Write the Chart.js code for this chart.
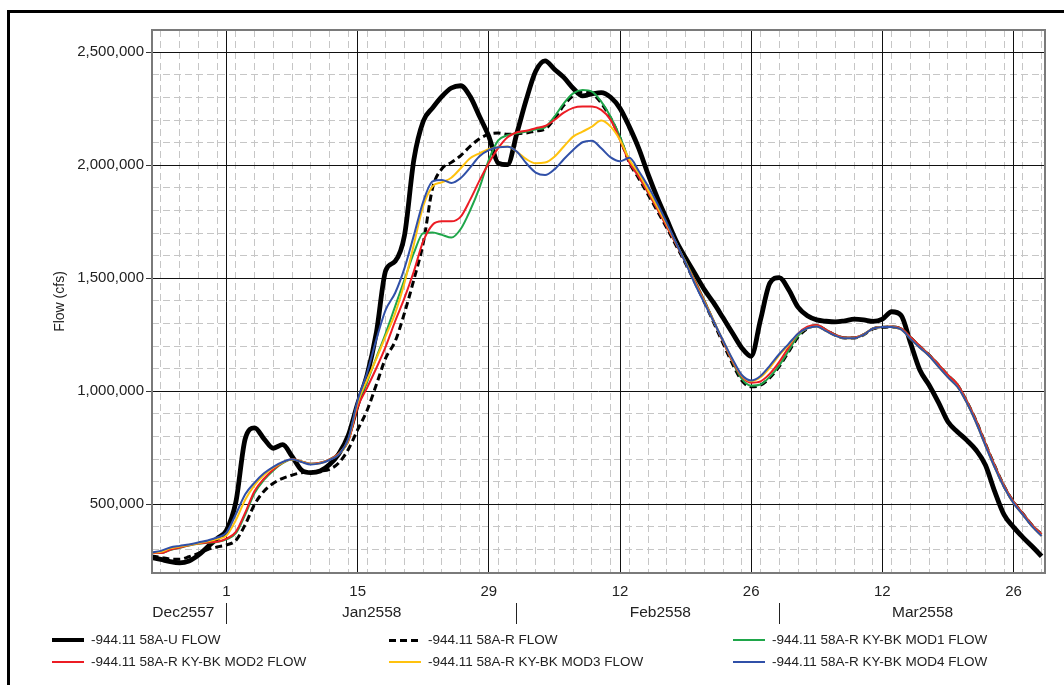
<!DOCTYPE html>
<html><head><meta charset="utf-8">
<script src="https://cdn.jsdelivr.net/npm/chart.js@4.4.1/dist/chart.umd.min.js"></script>
<style>
html,body{margin:0;padding:0;background:#fff;overflow:hidden;}
#wrap{position:relative;width:1064px;height:685px;overflow:hidden;}
#frame{position:absolute;left:7px;top:10px;width:1100px;height:720px;border-left:3px solid #000;border-top:3px solid #000;box-sizing:border-box;}
canvas{position:absolute;left:0;top:0;}
.lt{position:absolute;font:13.5px "Liberation Sans",Arial,sans-serif;color:#222;white-space:nowrap;line-height:16px;}
.sw{position:absolute;width:32px;}
</style></head>
<body><div id="wrap"><div id="frame"></div><canvas id="c" width="1064" height="685"></canvas><div id="legend"></div></div>
<script>
// x values: day offset from 1 Jan 2558 (day 0)
const days = [-8,-7,-6,-5,-4,-3,-2,-1,0,1,2,3,4,5,6,7,8,9,10,11,12,13,14,15,16,17,18,19,20,21,22,23,24,25,26,27,28,29,30,31,32,33,34,35,36,37,38,39,40,41,42,43,44,45,46,47,48,49,50,51,52,53,54,55,56,57,58,59,60,61,62,63,64,65,66,67,68,69,70,71,72,73,74,75,76,77,78,79,80,81,82,83,84,85,86,87];

const flowU = [265000,256000,246000,241000,249000,275000,312000,349000,
385000,510000,790000,838000,790000,748000,764000,712000,652000,640000,
647000,676000,724000,805000,945000,1070000,1260000,1535000,1575000,1690000,
2025000,2195000,2254000,2305000,2342000,2352000,2305000,2217000,2128000,2010000,
2003000,2143000,2291000,2416000,2462000,2425000,2389000,2341000,2307000,2316000,
2322000,2301000,2252000,2170000,2075000,1960000,1855000,1760000,1665000,1590000,
1520000,1450000,1391000,1325000,1258000,1192000,1155000,1317000,1479000,1503000,
1450000,1372000,1334000,1316000,1310000,1307000,1312000,1319000,1316000,1309000,
1319000,1352000,1336000,1215000,1094000,1027000,950000,865000,821000,784000,
740000,674000,556000,453000,399000,354000,313000,270000];

const flowR = [272000,265000,258000,257000,268000,283000,300000,311000,
320000,340000,410000,500000,558000,593000,615000,629000,640000,644000,
647000,655000,684000,743000,830000,915000,1030000,1148000,1221000,1347000,
1494000,1656000,1900000,1985000,2013000,2043000,2084000,2117000,2138000,2143000,
2137000,2140000,2143000,2152000,2160000,2205000,2265000,2308000,2325000,2318000,
2275000,2208000,2120000,2012000,1942000,1870000,1797000,1722000,1644000,1565000,
1482000,1395000,1304000,1212000,1122000,1047000,1020000,1027000,1060000,1110000,
1175000,1240000,1278000,1290000,1270000,1248000,1236000,1236000,1250000,1276000,
1283000,1285000,1276000,1238000,1198000,1160000,1116000,1070000,1028000,956000,
870000,768000,670000,580000,510000,458000,406000,366000];

const flowMod1 = [284000,284000,298000,308000,318000,325000,330000,333000,
345000,372000,455000,550000,608000,650000,682000,698000,690000,679000,
684000,699000,725000,780000,945000,1040000,1150000,1258000,1376000,1494000,
1612000,1700000,1703000,1692000,1680000,1718000,1800000,1900000,2024000,2110000,
2133000,2142000,2149000,2159000,2168000,2215000,2274000,2318000,2333000,2326000,
2282000,2215000,2127000,2020000,1950000,1878000,1805000,1730000,1652000,1573000,
1490000,1403000,1312000,1220000,1130000,1055000,1025000,1030000,1065000,1115000,
1180000,1245000,1282000,1292000,1272000,1250000,1238000,1238000,1252000,1278000,
1285000,1287000,1278000,1240000,1200000,1162000,1118000,1072000,1032000,958000,
872000,770000,672000,582000,512000,460000,408000,368000];

const flowMod2 = [284000,284000,299000,309000,319000,326000,331000,334000,
348000,378000,463000,559000,613000,654000,684000,699000,690000,679000,
684000,699000,725000,779000,930000,1015000,1103000,1199000,1310000,1413000,
1531000,1664000,1737000,1752000,1752000,1773000,1847000,1932000,2010000,2076000,
2124000,2146000,2153000,2164000,2174000,2201000,2233000,2254000,2260000,2260000,
2245000,2201000,2112000,2012000,1950000,1880000,1805000,1728000,1650000,1570000,
1487000,1400000,1310000,1220000,1133000,1065000,1038000,1044000,1078000,1130000,
1195000,1255000,1286000,1293000,1272000,1250000,1238000,1238000,1252000,1278000,
1285000,1287000,1278000,1240000,1200000,1162000,1118000,1072000,1032000,958000,
872000,770000,672000,582000,512000,460000,408000,368000];

const flowMod3 = [286000,290000,305000,313000,320000,328000,336000,346000,
362000,430000,520000,585000,630000,662000,685000,698000,688000,678000,
682000,697000,722000,785000,950000,1050000,1145000,1245000,1345000,1480000,
1650000,1820000,1907000,1925000,1945000,1987000,2031000,2053000,2071000,2080000,
2083000,2060000,2027000,2009000,2012000,2038000,2083000,2127000,2149000,2171000,
2198000,2171000,2112000,2025000,1965000,1890000,1815000,1738000,1655000,1570000,
1480000,1395000,1308000,1225000,1140000,1070000,1045000,1062000,1105000,1160000,
1205000,1253000,1279000,1287000,1266000,1246000,1235000,1235000,1250000,1278000,
1284000,1285000,1274000,1232000,1193000,1156000,1108000,1062000,1020000,950000,
862000,760000,662000,574000,505000,453000,401000,360000];

const flowMod4 = [287000,294000,309000,316000,322000,331000,340000,353000,
375000,456000,544000,596000,637000,666000,687000,699000,687000,676000,
681000,696000,721000,790000,960000,1080000,1230000,1361000,1435000,1545000,
1690000,1840000,1929000,1935000,1922000,1944000,1990000,2040000,2067000,2080000,
2082000,2060000,2009000,1968000,1957000,1982000,2027000,2068000,2102000,2109000,
2075000,2035000,2018000,2033000,1975000,1907000,1830000,1745000,1656000,1568000,
1475000,1391000,1308000,1225000,1143000,1072000,1048000,1068000,1114000,1165000,
1210000,1255000,1279000,1287000,1266000,1246000,1235000,1235000,1250000,1278000,
1284000,1285000,1274000,1232000,1193000,1156000,1108000,1062000,1020000,950000,
862000,760000,662000,574000,505000,453000,401000,360000];

const seriesNames = ['-944.11 58A-U FLOW','-944.11 58A-R FLOW','-944.11 58A-R KY-BK MOD1 FLOW',
  '-944.11 58A-R KY-BK MOD2 FLOW','-944.11 58A-R KY-BK MOD3 FLOW','-944.11 58A-R KY-BK MOD4 FLOW'];

const yTickValues = [500000,1000000,1500000,2000000,2500000];
const yMinorValues = [300000,400000,600000,700000,800000,900000,1100000,1200000,1300000,1400000,
  1600000,1700000,1800000,1900000,2100000,2200000,2300000,2400000];
const dayTickValues = [0,14,28,42,56,70,84];
const dayTickLabels = ['1','15','29','12','26','12','26'];
const dayMinorValues = [-7,-5,-3,-1,1,3,5,7,9,11,13,15,17,19,21,23,25,27,29,31,33,35,37,39,41,43,45,47,49,51,53,55,57,59,61,63,65,67,69,71,73,75,77,79,81,83,85,87];
const monthLabelPos = [-4.6,15.5,46.3,74.3];
const monthLabels = ['Dec2557','Jan2558','Feb2558','Mar2558'];
const monthBounds = [0,31,59];

const X_MIN = -7.95, X_MAX = 87.36, Y_MIN = 196000, Y_MAX = 2598700;
const FONT = "'Liberation Sans', Arial, sans-serif";

// month axis ticks: labels + separators
const monthTicks = monthLabelPos.map((v,i)=>({value:v,text:monthLabels[i],sep:false}))
  .concat(monthBounds.map(v=>({value:v,text:'',sep:true})))
  .sort((a,b)=>a.value-b.value);

const fmt = v => String(Math.round(v)).replace(/\B(?=(\d{3})+(?!\d))/g, ',');
const pts = vals => days.map((d,i)=>({x:d,y:vals[i]}));
const styles = [
  {color:'#000000', width:4.8, dash:[], order:5},
  {color:'#000000', width:3, dash:[7,4], order:4},
  {color:'#1fa64a', width:2, dash:[], order:3},
  {color:'#ec1c24', width:2, dash:[], order:2},
  {color:'#ffc20e', width:2, dash:[], order:1},
  {color:'#3050a8', width:2, dash:[], order:0}
];
const allSeries = [flowU, flowR, flowMod1, flowMod2, flowMod3, flowMod4];

const datasets = allSeries.map((vals,i)=>({
  label: seriesNames[i], data: pts(vals),
  borderColor: styles[i].color, backgroundColor: styles[i].color,
  borderWidth: styles[i].width, borderDash: styles[i].dash, order: styles[i].order,
  pointRadius:0, fill:false, tension:0.4, cubicInterpolationMode:'monotone',
  borderJoinStyle:'round'
}));

const framePlugin = {
  id:'plotFrame',
  afterDatasetsDraw(chart){
    const {ctx, chartArea:a} = chart;
    ctx.save();
    ctx.strokeStyle = '#7a7a7a'; ctx.lineWidth = 2;
    ctx.strokeRect(a.left, a.top, a.right-a.left, a.bottom-a.top);
    ctx.restore();
  }
};

new Chart(document.getElementById('c'), {
  type:'line',
  data:{datasets},
  options:{
    responsive:false, animation:false, devicePixelRatio:1,
    layout:{padding:{left:52,right:19,top:30,bottom:52}},
    plugins:{legend:{display:false}, tooltip:{enabled:false}},
    scales:{
      yMinor:{
        type:'linear', position:'left', min:Y_MIN, max:Y_MAX,
        afterBuildTicks:s=>{s.ticks = yMinorValues.map(v=>({value:v}));},
        ticks:{display:false},
        grid:{color:'#c6c6c6', lineWidth:1, drawTicks:false, z:-2},
        border:{display:false, dash:[7,4]},
        afterFit:s=>{s.width = 0;}
      },
      y:{
        type:'linear', position:'left', min:Y_MIN, max:Y_MAX,
        afterBuildTicks:s=>{s.ticks = yTickValues.map(v=>({value:v}));},
        ticks:{padding:2, color:'#222', font:{family:FONT,size:15}, callback:v=>fmt(v)},
        grid:{color:'#111', lineWidth:1, tickLength:6, tickColor:'#333', z:-1},
        border:{display:false},
        title:{display:true, text:'Flow (cfs)', color:'#222', font:{family:FONT,size:14}, padding:0},
        afterFit:s=>{s.width = 100;}
      },
      xMinor:{
        type:'linear', position:'bottom', min:X_MIN, max:X_MAX,
        afterBuildTicks:s=>{s.ticks = dayMinorValues.map(v=>({value:v}));},
        ticks:{display:false},
        grid:{color:'#c6c6c6', lineWidth:1, drawTicks:false, z:-2},
        border:{display:false, dash:[7,4]},
        afterFit:s=>{s.height = 0;}
      },
      x:{
        type:'linear', position:'bottom', min:X_MIN, max:X_MAX,
        afterBuildTicks:s=>{s.ticks = dayTickValues.map(v=>({value:v}));},
        ticks:{autoSkip:false, maxRotation:0, padding:10, color:'#222', font:{family:FONT,size:15},
          callback:(v,i)=>dayTickLabels[i]},
        grid:{color:'#111', lineWidth:1, drawTicks:false, z:-1},
        border:{display:false},
        afterFit:s=>{s.height = 30;}
      },
      xMonth:{
        type:'linear', position:'bottom', min:X_MIN, max:X_MAX,
        afterBuildTicks:s=>{s.ticks = monthTicks.map(t=>({value:t.value}));},
        ticks:{autoSkip:false, maxRotation:0, padding:-21, color:'#222', font:{family:FONT,size:15.5},
          callback:(v,i)=>monthTicks[i].text},
        grid:{drawOnChartArea:false, drawTicks:true, tickLength:21, tickWidth:1,
          color:'rgba(0,0,0,0)', tickColor:c=> (monthTicks[c.index] && monthTicks[c.index].sep) ? '#222' : 'rgba(0,0,0,0)'},
        border:{display:false},
        afterFit:s=>{s.height = 30;}
      }
    }
  },
  plugins:[framePlugin]
});

// legend (HTML, built from series names/styles)
const legendCols = [52,389,733];
const legendRows = [640,662];
const lg = document.getElementById('legend');
seriesNames.forEach((name,i)=>{
  const col = i % 3, row = Math.floor(i/3);
  const st = styles[i];
  const sw = document.createElement('div');
  sw.className = 'sw';
  sw.style.left = legendCols[col]+'px';
  sw.style.top = (legendRows[row]-st.width/2)+'px';
  sw.style.height = st.width+'px';
  if (st.dash.length) {
    sw.style.background = `repeating-linear-gradient(to right, ${st.color} 0 ${st.dash[0]}px, transparent ${st.dash[0]}px ${st.dash[0]+st.dash[1]}px)`;
  } else {
    sw.style.background = st.color;
  }
  lg.appendChild(sw);
  const t = document.createElement('div');
  t.className = 'lt';
  t.textContent = name;
  t.style.left = (legendCols[col]+39)+'px';
  t.style.top = (legendRows[row]-8)+'px';
  lg.appendChild(t);
});
</script>
</body></html>
